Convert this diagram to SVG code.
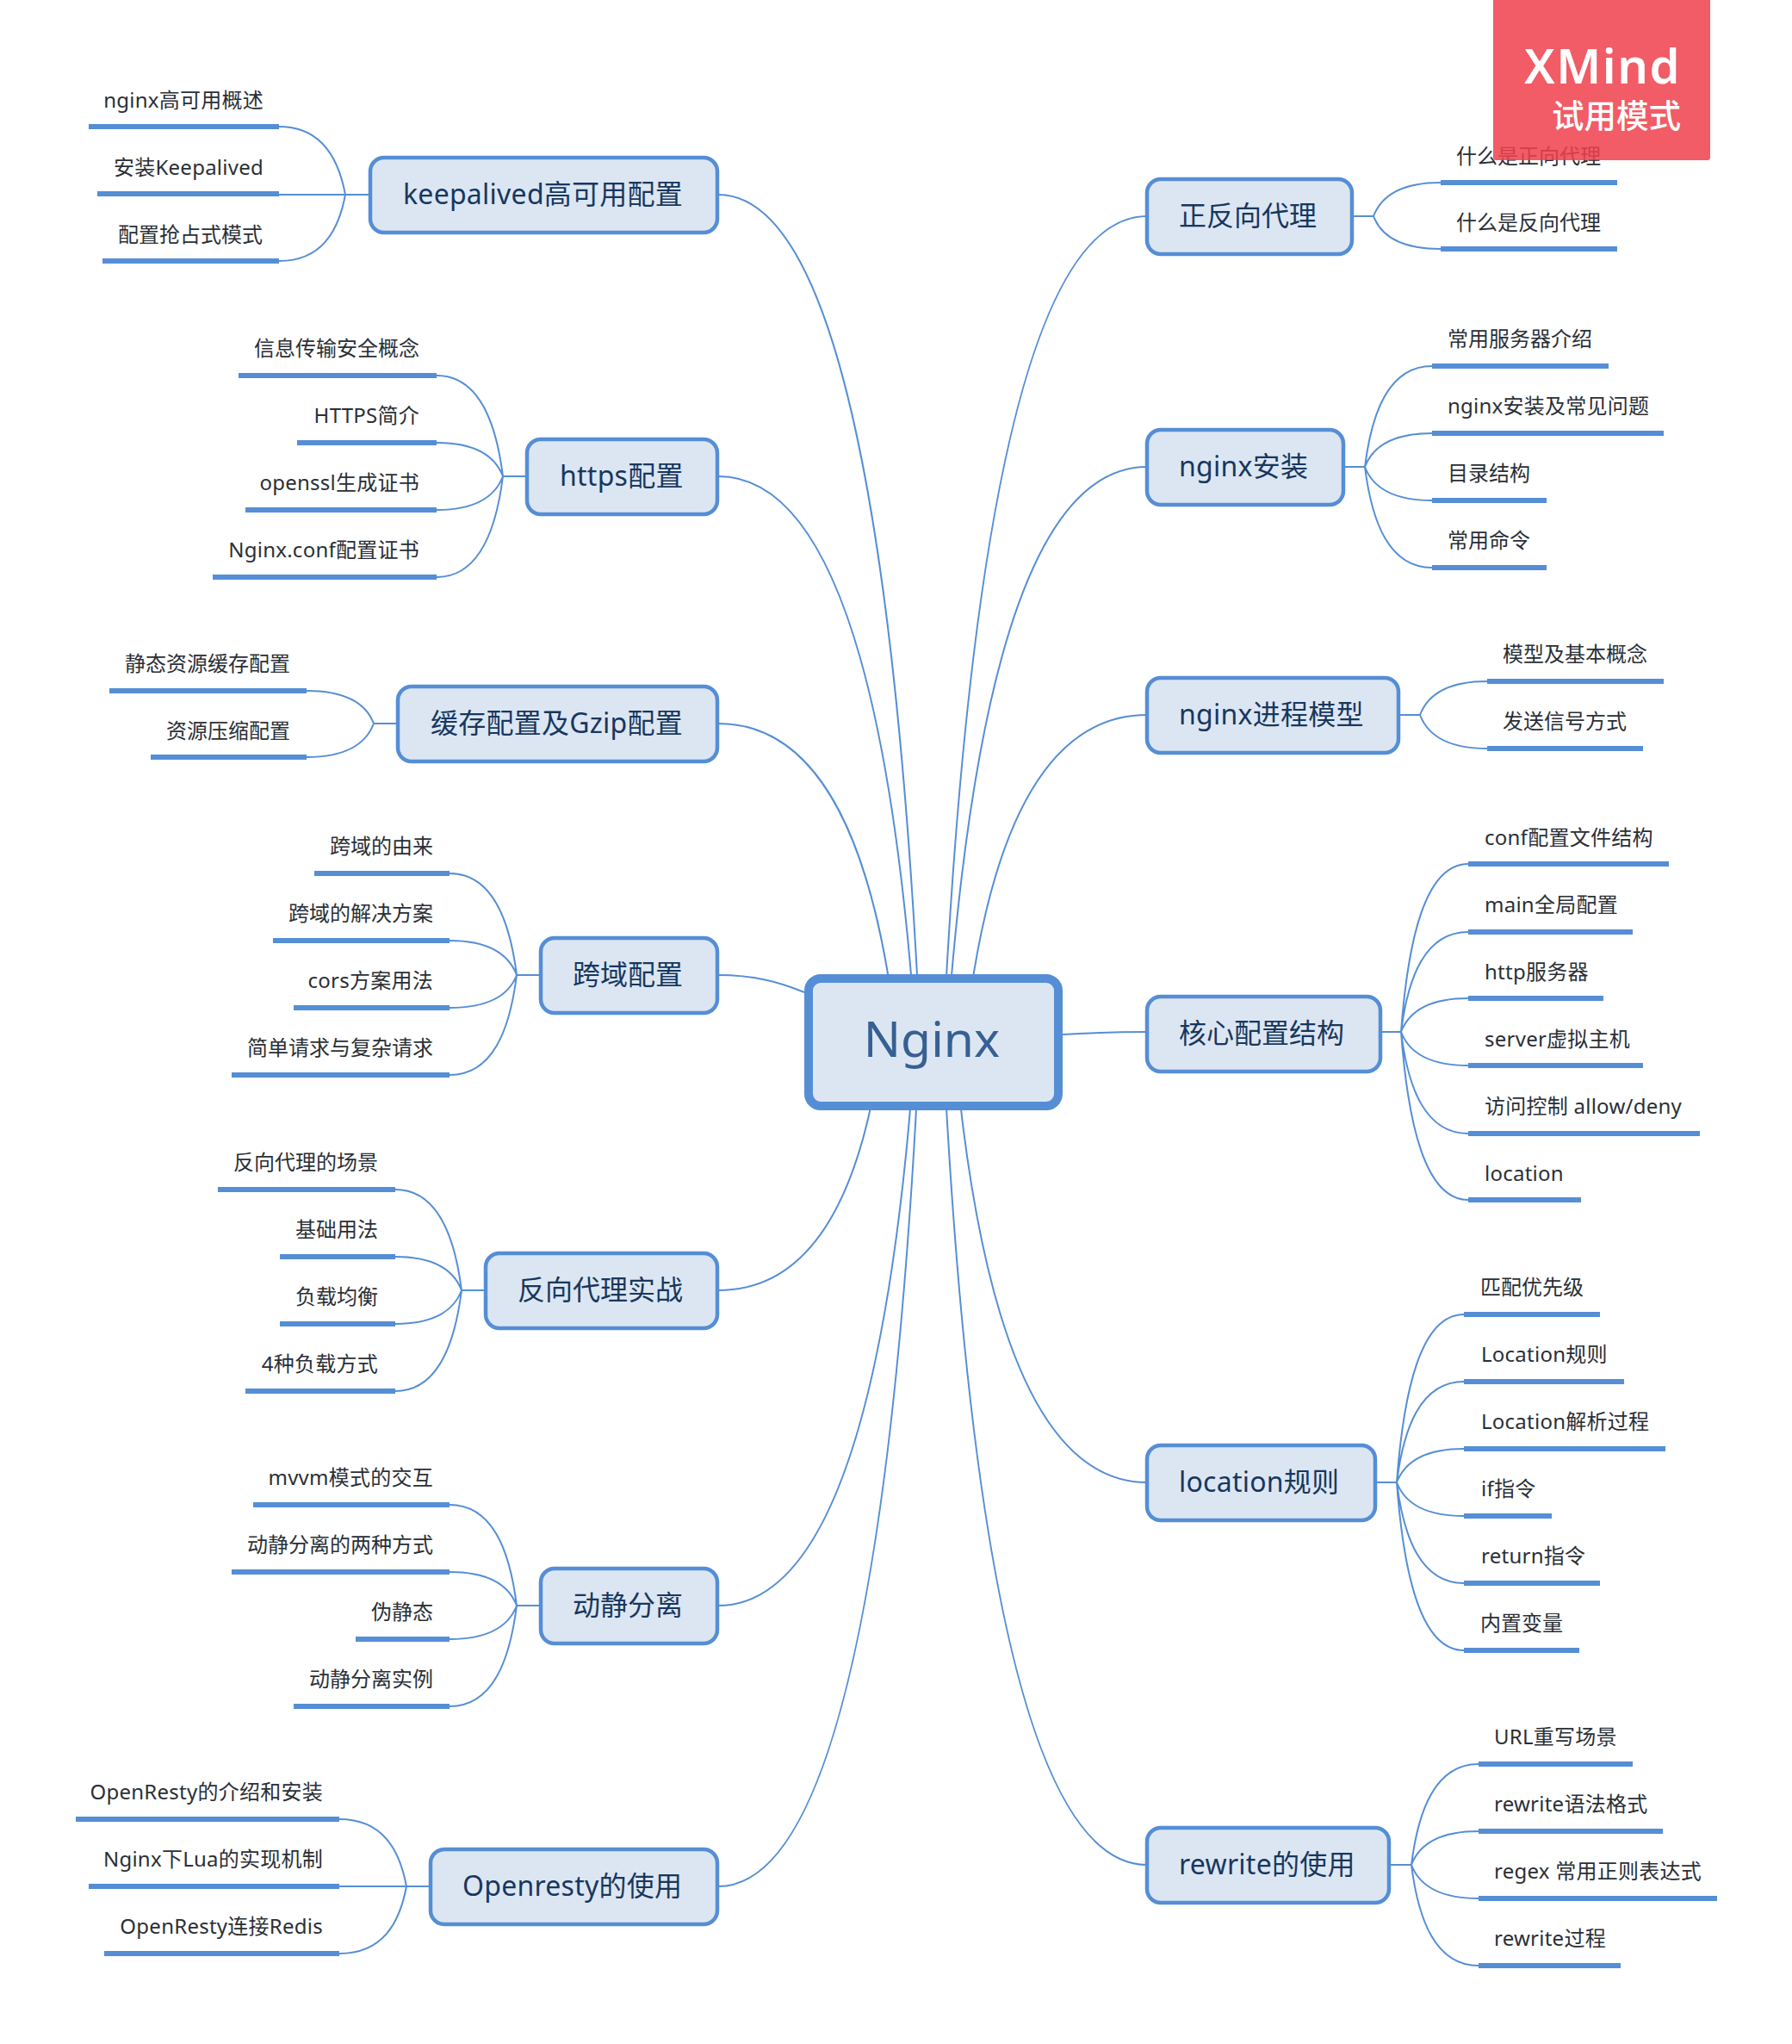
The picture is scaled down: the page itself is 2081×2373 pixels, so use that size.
<svg xmlns="http://www.w3.org/2000/svg" width="2081" height="2373" viewBox="0 0 2081 2373">
<style>
text{font-family:"Noto Sans","Noto Sans CJK SC",sans-serif}
.c{fill:none;stroke:#558ed5;stroke-width:2}
.b{fill:#dce6f2;stroke:#558ed5;stroke-width:4.5}
.u{fill:#558ed5}
.t{font-size:32px;fill:#17375e}
.l{font-size:24px;fill:#2a2f36}
.e{text-anchor:end}
.m{letter-spacing:.25px}
</style>
<rect width="2081" height="2373" fill="#fff"/>
<g id="connectors">
<path class="c" d="M1095 1210c27 -560 95 -959 237 -959"/>
<path class="c" d="M1099 1210c27 -390 93 -668 233 -668"/>
<path class="c" d="M1120 1210c24 -222 85 -380 212 -380"/>
<path class="c" d="M1234 1201C1270 1199 1300 1198 1332 1198"/>
<path class="c" d="M1108 1210c26 298 90 511 224 511"/>
<path class="c" d="M1095 1210c27 558 95 955 237 955"/>
<path class="c" d="M1069 1210c-27 -575 -94 -984 -235 -984"/>
<path class="c" d="M1064 1210c-26 -384 -92 -657 -230 -657"/>
<path class="c" d="M1042 1210c-24 -216 -83 -370 -208 -370"/>
<path class="c" d="M934 1152C905 1140 875 1132 834 1132"/>
<path class="c" d="M1024 1210c-22 168 -76 288 -190 288"/>
<path class="c" d="M1063 1210c-26 382 -92 654 -229 654"/>
<path class="c" d="M1068 1210c-27 572 -94 980 -234 980"/>

<path class="c" d="M1570 251H1595M1595 251c8 -21 28 -39 78 -39M1595 251c8 21 28 38 78 38"/>
<path class="c" d="M1560 542H1585M1585 542c8 -64 28 -117 78 -117M1585 542c8 -21 28 -39 78 -39M1585 542c8 21 28 39 78 39M1585 542c8 64 28 117 78 117"/>
<path class="c" d="M1624 830H1649M1649 830c8 -21 28 -39 78 -39M1649 830c8 21 28 39 78 39"/>
<path class="c" d="M1603 1198H1627M1627 1198c8 -107 28 -195 78 -195M1627 1198c8 -64 28 -116 78 -116M1627 1198c8 -21 28 -39 78 -39M1627 1198c8 21 28 39 78 39M1627 1198c8 65 28 118 78 118M1627 1198c8 107 28 195 78 195"/>
<path class="c" d="M1597 1721H1622M1622 1721c8 -107 28 -195 78 -195M1622 1721c8 -64 28 -117 78 -117M1622 1721c8 -21 28 -39 78 -39M1622 1721c8 21 28 39 78 39M1622 1721c8 64 28 117 78 117M1622 1721c8 107 28 195 78 195"/>
<path class="c" d="M1613 2165H1639M1639 2165c8 -64 28 -117 78 -117M1639 2165c8 -21 28 -39 78 -39M1639 2165c8 21 28 39 78 39M1639 2165c8 64 28 117 78 117"/>

<path class="c" d="M428 226H401M401 226c-8 -43 -28 -79 -77 -79M401 226H324M401 226c-8 43 -28 77 -77 77"/>
<path class="c" d="M611 553H584M584 553c-8 -64 -28 -117 -77 -117M584 553c-8 -21 -28 -39 -77 -39M584 553c-8 21 -28 39 -77 39M584 553c-8 64 -28 117 -77 117"/>
<path class="c" d="M461 840H434M434 840c-8 -21 -28 -38 -78 -38M434 840c-8 21 -28 39 -78 39"/>
<path class="c" d="M627 1132H600M600 1132c-8 -64 -28 -118 -78 -118M600 1132c-8 -21 -28 -40 -78 -40M600 1132c-8 21 -28 38 -78 38M600 1132c-8 64 -28 116 -78 116"/>
<path class="c" d="M563 1498H536M536 1498c-8 -64 -28 -117 -77 -117M536 1498c-8 -21 -28 -39 -77 -39M536 1498c-8 21 -28 39 -77 39M536 1498c-8 64 -28 117 -77 117"/>
<path class="c" d="M627 1864H600M600 1864c-8 -64 -28 -117 -78 -117M600 1864c-8 -21 -28 -39 -78 -39M600 1864c-8 21 -28 39 -78 39M600 1864c-8 64 -28 117 -78 117"/>
<path class="c" d="M499 2190H472M472 2190c-8 -43 -28 -78 -78 -78M472 2190H394M472 2190c-8 43 -28 78 -78 78"/>
</g>

<g id="root"><rect x="939" y="1136" width="290" height="148" rx="14" fill="#dce6f2" stroke="#558ed5" stroke-width="10"/><text x="1082" y="1227" text-anchor="middle" font-size="57" fill="#376092">Nginx</text></g>

<g id="n-proxy"><rect class="b" x="1332" y="208" width="238" height="87" rx="16"/><text class="t" x="1369" y="262">正反向代理</text></g>
<g id="n-proxy-1"><rect class="u" x="1673" y="209" width="205" height="6"/><text class="l" x="1691" y="190">什么是正向代理</text></g>
<g id="n-proxy-2"><rect class="u" x="1673" y="286" width="205" height="6"/><text class="l" x="1691" y="267">什么是反向代理</text></g>

<g id="n-install"><rect class="b" x="1332" y="499" width="228" height="87" rx="16"/><text class="t m" x="1369" y="553">nginx安装</text></g>
<g id="n-install-1"><rect class="u" x="1663" y="422" width="205" height="6"/><text class="l" x="1681" y="402">常用服务器介绍</text></g>
<g id="n-install-2"><rect class="u" x="1663" y="500" width="269" height="6"/><text class="l m" x="1681" y="480">nginx安装及常见问题</text></g>
<g id="n-install-3"><rect class="u" x="1663" y="578" width="133" height="6"/><text class="l" x="1681" y="558">目录结构</text></g>
<g id="n-install-4"><rect class="u" x="1663" y="656" width="133" height="6"/><text class="l" x="1681" y="636">常用命令</text></g>

<g id="n-process"><rect class="b" x="1332" y="787" width="292" height="87" rx="16"/><text class="t m" x="1369" y="841">nginx进程模型</text></g>
<g id="n-process-1"><rect class="u" x="1727" y="788" width="205" height="6"/><text class="l" x="1745" y="768">模型及基本概念</text></g>
<g id="n-process-2"><rect class="u" x="1727" y="866" width="181" height="6"/><text class="l" x="1745" y="846">发送信号方式</text></g>

<g id="n-core"><rect class="b" x="1332" y="1157" width="271" height="87" rx="16"/><text class="t" x="1369" y="1211">核心配置结构</text></g>
<g id="n-core-1"><rect class="u" x="1705" y="1000" width="233" height="6"/><text class="l m" x="1724" y="981">conf配置文件结构</text></g>
<g id="n-core-2"><rect class="u" x="1705" y="1079" width="191" height="6"/><text class="l m" x="1724" y="1059">main全局配置</text></g>
<g id="n-core-3"><rect class="u" x="1705" y="1156" width="157" height="6"/><text class="l m" x="1724" y="1137">http服务器</text></g>
<g id="n-core-4"><rect class="u" x="1705" y="1234" width="203" height="6"/><text class="l m" x="1724" y="1215">server虚拟主机</text></g>
<g id="n-core-5"><rect class="u" x="1705" y="1313" width="269" height="6"/><text class="l m" x="1724" y="1293">访问控制 allow/deny</text></g>
<g id="n-core-6"><rect class="u" x="1705" y="1390" width="131" height="6"/><text class="l m" x="1724" y="1371">location</text></g>

<g id="n-location"><rect class="b" x="1332" y="1678" width="265" height="87" rx="16"/><text class="t m" x="1369" y="1732">location规则</text></g>
<g id="n-location-1"><rect class="u" x="1700" y="1523" width="158" height="6"/><text class="l" x="1719" y="1503">匹配优先级</text></g>
<g id="n-location-2"><rect class="u" x="1700" y="1601" width="186" height="6"/><text class="l m" x="1720" y="1581">Location规则</text></g>
<g id="n-location-3"><rect class="u" x="1700" y="1679" width="234" height="6"/><text class="l m" x="1720" y="1659">Location解析过程</text></g>
<g id="n-location-4"><rect class="u" x="1700" y="1757" width="102" height="6"/><text class="l m" x="1720" y="1737">if指令</text></g>
<g id="n-location-5"><rect class="u" x="1700" y="1835" width="158" height="6"/><text class="l m" x="1720" y="1815">return指令</text></g>
<g id="n-location-6"><rect class="u" x="1700" y="1913" width="134" height="6"/><text class="l" x="1719" y="1893">内置变量</text></g>

<g id="n-rewrite"><rect class="b" x="1332" y="2122" width="281" height="87" rx="16"/><text class="t m" x="1369" y="2176">rewrite的使用</text></g>
<g id="n-rewrite-1"><rect class="u" x="1717" y="2045" width="179" height="6"/><text class="l m" x="1735" y="2025">URL重写场景</text></g>
<g id="n-rewrite-2"><rect class="u" x="1717" y="2123" width="214" height="6"/><text class="l m" x="1735" y="2103">rewrite语法格式</text></g>
<g id="n-rewrite-3"><rect class="u" x="1717" y="2201" width="277" height="6"/><text class="l m" x="1735" y="2181">regex 常用正则表达式</text></g>
<g id="n-rewrite-4"><rect class="u" x="1717" y="2279" width="165" height="6"/><text class="l m" x="1735" y="2259">rewrite过程</text></g>

<g id="n-keepalived"><rect class="b" x="430" y="183" width="403" height="87" rx="16"/><text class="t m" x="468" y="237">keepalived高可用配置</text></g>
<g id="n-keepalived-1"><rect class="u" x="103" y="144" width="221" height="6"/><text class="l e m" x="306" y="125">nginx高可用概述</text></g>
<g id="n-keepalived-2"><rect class="u" x="113" y="222" width="211" height="6"/><text class="l e m" x="306" y="203">安装Keepalived</text></g>
<g id="n-keepalived-3"><rect class="u" x="119" y="300" width="205" height="6"/><text class="l e" x="305" y="281">配置抢占式模式</text></g>

<g id="n-https"><rect class="b" x="612" y="510" width="221" height="87" rx="16"/><text class="t m" x="650" y="564">https配置</text></g>
<g id="n-https-1"><rect class="u" x="277" y="433" width="230" height="6"/><text class="l e" x="487" y="413">信息传输安全概念</text></g>
<g id="n-https-2"><rect class="u" x="345" y="511" width="162" height="6"/><text class="l e m" x="487" y="491">HTTPS简介</text></g>
<g id="n-https-3"><rect class="u" x="285" y="589" width="222" height="6"/><text class="l e m" x="487" y="569">openssl生成证书</text></g>
<g id="n-https-4"><rect class="u" x="247" y="667" width="260" height="6"/><text class="l e m" x="487" y="647">Nginx.conf配置证书</text></g>

<g id="n-cache"><rect class="b" x="462" y="797" width="371" height="87" rx="16"/><text class="t m" x="500" y="851">缓存配置及Gzip配置</text></g>
<g id="n-cache-1"><rect class="u" x="127" y="799" width="229" height="6"/><text class="l e" x="337" y="779">静态资源缓存配置</text></g>
<g id="n-cache-2"><rect class="u" x="175" y="876" width="181" height="6"/><text class="l e" x="337" y="857">资源压缩配置</text></g>

<g id="n-cors"><rect class="b" x="628" y="1089" width="205" height="87" rx="16"/><text class="t" x="665" y="1143">跨域配置</text></g>
<g id="n-cors-1"><rect class="u" x="365" y="1011" width="157" height="6"/><text class="l e" x="503" y="991">跨域的由来</text></g>
<g id="n-cors-2"><rect class="u" x="317" y="1089" width="205" height="6"/><text class="l e" x="503" y="1069">跨域的解决方案</text></g>
<g id="n-cors-3"><rect class="u" x="341" y="1167" width="181" height="6"/><text class="l e m" x="503" y="1147">cors方案用法</text></g>
<g id="n-cors-4"><rect class="u" x="269" y="1245" width="253" height="6"/><text class="l e" x="503" y="1225">简单请求与复杂请求</text></g>

<g id="n-reverse"><rect class="b" x="564" y="1455" width="269" height="87" rx="16"/><text class="t" x="601" y="1509">反向代理实战</text></g>
<g id="n-reverse-1"><rect class="u" x="253" y="1378" width="206" height="6"/><text class="l e" x="439" y="1358">反向代理的场景</text></g>
<g id="n-reverse-2"><rect class="u" x="325" y="1456" width="134" height="6"/><text class="l e" x="439" y="1436">基础用法</text></g>
<g id="n-reverse-3"><rect class="u" x="325" y="1534" width="134" height="6"/><text class="l e" x="439" y="1514">负载均衡</text></g>
<g id="n-reverse-4"><rect class="u" x="285" y="1612" width="174" height="6"/><text class="l e m" x="439" y="1592">4种负载方式</text></g>

<g id="n-static"><rect class="b" x="628" y="1821" width="205" height="87" rx="16"/><text class="t" x="665" y="1875">动静分离</text></g>
<g id="n-static-1"><rect class="u" x="294" y="1744" width="228" height="6"/><text class="l e m" x="503" y="1724">mvvm模式的交互</text></g>
<g id="n-static-2"><rect class="u" x="269" y="1822" width="253" height="6"/><text class="l e" x="503" y="1802">动静分离的两种方式</text></g>
<g id="n-static-3"><rect class="u" x="413" y="1900" width="109" height="6"/><text class="l e" x="503" y="1880">伪静态</text></g>
<g id="n-static-4"><rect class="u" x="341" y="1978" width="181" height="6"/><text class="l e" x="503" y="1958">动静分离实例</text></g>

<g id="n-openresty"><rect class="b" x="500" y="2147" width="333" height="87" rx="16"/><text class="t m" x="537" y="2201">Openresty的使用</text></g>
<g id="n-openresty-1"><rect class="u" x="88" y="2109" width="306" height="6"/><text class="l e m" x="375" y="2089">OpenResty的介绍和安装</text></g>
<g id="n-openresty-2"><rect class="u" x="103" y="2187" width="291" height="6"/><text class="l e m" x="375" y="2167">Nginx下Lua的实现机制</text></g>
<g id="n-openresty-3"><rect class="u" x="121" y="2265" width="273" height="6"/><text class="l e m" x="375" y="2245">OpenResty连接Redis</text></g>

<g id="watermark"><path d="M1734 0H1986V183a3 3 0 0 1 -3 3H1737a3 3 0 0 1 -3 -3Z" fill="#ef3f4b" fill-opacity=".85"/><text x="1952" y="97" text-anchor="end" font-size="56" font-weight="600" letter-spacing="1.5" fill="#fff">XMind</text><text x="1952" y="148" text-anchor="end" font-size="37.5" font-weight="500" fill="#fff">试用模式</text></g>
</svg>
